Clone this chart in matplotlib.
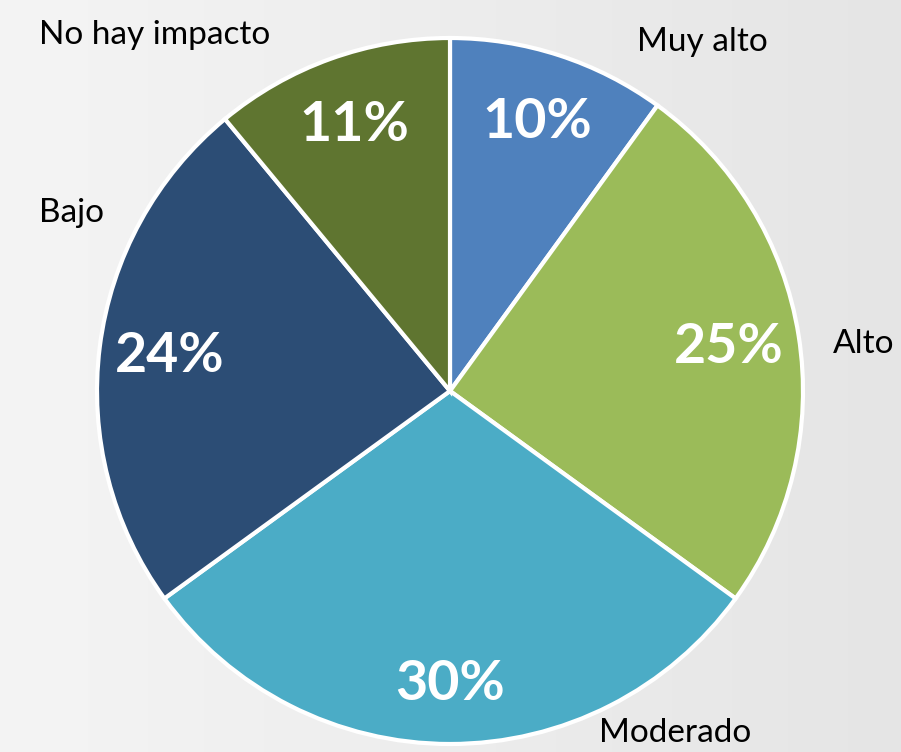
import matplotlib
matplotlib.use("Agg")
import matplotlib.pyplot as plt
import numpy as np

categories = ["Muy alto", "Alto", "Moderado", "Bajo", "No hay impacto"]
values = [10, 25, 30, 24, 11]
colors = ["#4F81BD", "#9BBB59", "#4BACC6", "#2C4D75", "#5F7530"]

W, H = 901, 752
fig = plt.figure(figsize=(W / 100, H / 100), dpi=100)
ax = fig.add_axes([0, 0, 1, 1])

# background gradient
grad = np.linspace(0.955, 0.895, 256).reshape(1, -1)
grad = np.repeat(grad, 2, axis=0)
ax.imshow(grad, cmap="gray", vmin=0, vmax=1, extent=[0, W, 0, H], aspect="auto", zorder=0)

cx, cy, R = 450, H - 391, 353
wedges, texts, autotexts = ax.pie(
    values, colors=colors, startangle=90, counterclock=False,
    center=(cx, cy), radius=R, frame=True,
    autopct=lambda p: f"{p:.0f}%", pctdistance=0.8,
    wedgeprops=dict(edgecolor="white", linewidth=3),
    textprops=dict(color="white", fontsize=40, fontweight="bold", family="Lato"),
)
ax.set_xlim(0, W)
ax.set_ylim(0, H)
ax.set_aspect("equal")
ax.axis("off")
# Moderado label sits slightly further out
x, y = autotexts[2].get_position()
autotexts[2].set_position((cx + (x - cx) * 0.83 / 0.8, cy + (y - cy) * 0.83 / 0.8))

label_pos = [(702, 42), (864, 344), (675, 733), (72, 213), (155, 35)]
for name, (lx, ly) in zip(categories, label_pos):
    ax.text(lx, H - ly, name, ha="center", va="center", fontsize=24,
            family="Lato", color="black")

fig.savefig("out.png", dpi=100)
